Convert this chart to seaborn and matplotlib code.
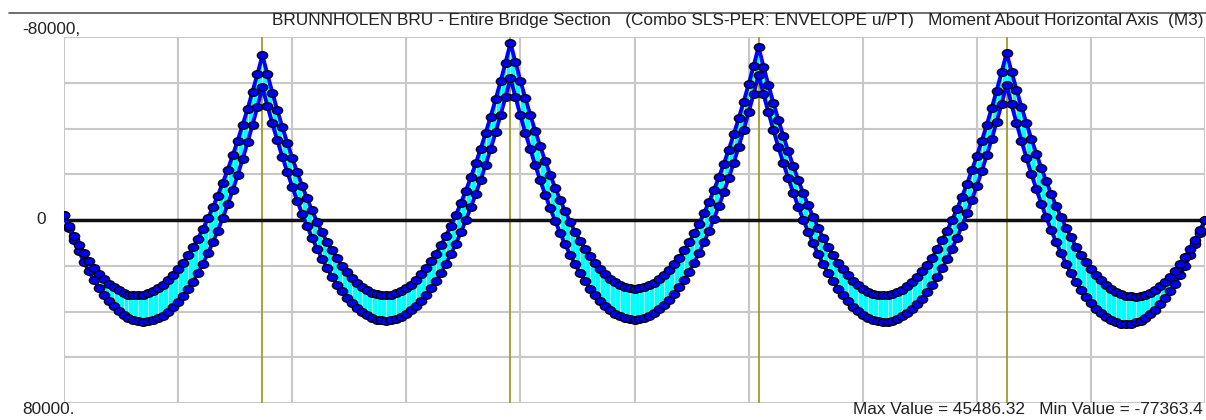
import numpy as np
import seaborn as sns
import matplotlib.pyplot as plt
from matplotlib.path import Path
from matplotlib.transforms import Affine2D
from matplotlib.lines import Line2D

# M3 envelope, 1 m output stations, kNm (each span lists both end stations)
span_lengths = [40, 50, 50, 50, 40]

span1_max = [-2000, 3600, 8800, 13700, 18200, 22400, 26200, 29600, 32700, 35400, 37800, 39800, 41500,
             42800, 43700, 44300, 44500, 44300, 43800, 43000, 41800, 40200, 38200, 35900, 33300, 30300,
             26900, 23200, 19100, 14600, 9800, 4600, -900, -6800, -13000, -19600, -26600, -33900,
             -41600, -49600, -58000]
span1_min = [-2000, 2600, 6900, 10900, 14500, 17800, 20800, 23500, 25800, 27800, 29500, 30800, 31900,
             32600, 32900, 33000, 32700, 32100, 31200, 29900, 28300, 26400, 24200, 21600, 18700, 15500,
             11900, 8100, 3900, -700, -5500, -10700, -16200, -22000, -28200, -34700, -41500, -48600,
             -56100, -63900, -72000]

span2_max = [-58000, -49900, -42200, -34800, -27700, -21000, -14600, -8500, -2700, 2700, 7800, 12500,
             16900, 21000, 24700, 28200, 31200, 34000, 36400, 38500, 40200, 41700, 42700, 43500, 43900,
             44000, 43800, 43200, 42300, 41000, 39400, 37500, 35300, 32700, 29800, 26600, 23000, 19100,
             14800, 10300, 5400, 100, -5500, -11400, -17600, -24200, -31100, -38300, -45900, -53800,
             -62000]
span2_min = [-72000, -63700, -55700, -48000, -40700, -33800, -27200, -20900, -15000, -9400, -4200, 700,
             5300, 9500, 13300, 16800, 20000, 22800, 25300, 27400, 29200, 30700, 31800, 32500, 32900,
             33000, 32700, 32100, 31100, 29800, 28200, 26200, 23800, 21100, 18100, 14700, 11000, 6900,
             2500, -2300, -7400, -12800, -18600, -24800, -31200, -38100, -45200, -52700, -60600, -68800,
             -77363]

span3_max = [-62000, -53700, -45700, -38100, -30900, -23900, -17300, -11100, -5100, 400, 5700, 10600,
             15100, 19400, 23200, 26800, 30000, 32800, 35400, 37500, 39400, 40900, 42000, 42900, 43300,
             43500, 43300, 42800, 41900, 40700, 39100, 37200, 35000, 32400, 29500, 26200, 22600, 18700,
             14400, 9800, 4800, -500, -6100, -12100, -18400, -25000, -32000, -39400, -47000, -55000,
             -63400]
span3_min = [-77363, -69000, -60900, -53200, -45900, -38800, -32200, -25800, -19800, -14200, -8900,
             -3900, 800, 5100, 9000, 12600, 15900, 18800, 21400, 23700, 25600, 27200, 28400, 29300,
             29800, 30000, 29900, 29400, 28600, 27400, 25900, 24100, 21900, 19400, 16500, 13300, 9800,
             5900, 1700, -2900, -7800, -13000, -18600, -24600, -30800, -37400, -44400, -51700, -59300,
             -67300, -75600]

span4_max = [-63400, -55000, -47000, -39300, -31900, -24900, -18200, -11900, -5900, -200, 5100, 10100,
             14800, 19100, 23100, 26700, 30000, 33000, 35600, 37900, 39800, 41400, 42700, 43600, 44200,
             44500, 44400, 44000, 43200, 42100, 40700, 38900, 36800, 34400, 31600, 28500, 25000, 21200,
             17100, 12600, 7800, 2600, -2900, -8700, -14900, -21400, -28200, -35400, -42900, -50800,
             -59000]
span4_min = [-75600, -67100, -59000, -51200, -43800, -36700, -30000, -23600, -17500, -11800, -6400,
             -1400, 3300, 7700, 11700, 15300, 18600, 21600, 24200, 26500, 28500, 30100, 31300, 32200,
             32800, 33000, 32900, 32400, 31600, 30500, 29000, 27100, 25000, 22400, 19600, 16400, 12800,
             8900, 4700, 100, -4800, -10100, -15700, -21700, -28000, -34600, -41600, -48900, -56600,
             -64600, -73000]

span5_max = [-59000, -50500, -42400, -34600, -27200, -20100, -13500, -7100, -1100, 4500, 9700, 14600,
             19100, 23300, 27100, 30600, 33700, 36400, 38800, 40800, 42500, 43800, 44700, 45300, 45486,
             45300, 44800, 44000, 42700, 41200, 39200, 36900, 34300, 31200, 27900, 24100, 20000, 15500,
             10700, 5500, 0]
span5_min = [-73000, -64900, -57000, -49500, -42300, -35500, -29000, -22800, -16900, -11300, -6100,
             -1200, 3400, 7600, 11600, 15200, 18500, 21400, 24100, 26400, 28400, 30000, 31400, 32400,
             33100, 33400, 33500, 33200, 32600, 31700, 30400, 28800, 26900, 24700, 22100, 19300, 16100,
             12500, 8700, 4500, 0]

title = ("BRUNNHOLEN BRU - Entire Bridge Section   (Combo SLS-PER: ENVELOPE u/PT)   "
         "Moment About Horizontal Axis  (M3)")
footer = "Max Value = 45486.32   Min Value = -77363.4"


def join(spans):
    out = list(spans[0])
    for s in spans[1:]:
        out += list(s[1:])
    return np.array(out, dtype=float)


m_max = join([span1_max, span2_max, span3_max, span4_max, span5_max])
m_min = join([span1_min, span2_min, span3_min, span4_min, span5_min])
stations = np.arange(len(m_max), dtype=float)
piers = np.cumsum(span_lengths)[:-1]
total = float(sum(span_lengths))

sns.set_style("white")
plt.rcParams['font.family'] = ['Liberation Sans', 'DejaVu Sans']

W, H = 1206, 420
fig = plt.figure(figsize=(W / 100, H / 100), dpi=100)
ax = fig.add_axes([64 / W, 17 / H, 1141 / W, 366 / H])

# grid
grid_c = '#c8c8c8'
for gx in np.linspace(0, total, 11):
    ax.axvline(gx, color=grid_c, lw=1.5, zorder=1)
for gy in np.arange(-80000, 80001, 20000):
    ax.axhline(gy, color=grid_c, lw=1.5, zorder=1)
for p in piers:
    ax.axvline(p, color='#a39b2a', lw=1.3, zorder=2)
ax.axhline(0, color='#111111', lw=2.5, zorder=2)

# envelope band
ax.fill_between(stations, m_min, m_max, color='#00ffff', lw=0, zorder=3)
ax.vlines(stations, m_min, m_max, color='#9ffcff', lw=0.7, zorder=3)

ell = Path.unit_circle().transformed(Affine2D().scale(1.35, 1.0))
for vals in (m_max, m_min):
    sns.lineplot(x=stations, y=vals, ax=ax, estimator=None, sort=False,
                 color='#0000ff', lw=2.8, marker=ell, markersize=7.5,
                 markerfacecolor='#0000ee', markeredgecolor='#000000',
                 markeredgewidth=0.9, zorder=4)

ax.set_xlim(0, total)
ax.set_ylim(80000, -80000)
ax.set_xticks([])
ax.set_yticks([])
ax.set_xlabel('')
ax.set_ylabel('')
for s in ax.spines.values():
    s.set_visible(False)

# header rule and labels
fig.add_artist(Line2D([9 / W, 1.0], [1 - 13 / H] * 2, color='#555555', lw=1.2))
fs = 12.4
fig.text(22 / W, 1 - 29 / H, '-80000,', fontsize=fs, va='center', ha='left', color='#222222')
fig.text(46 / W, 1 - 219 / H, '0', fontsize=fs, va='center', ha='right', color='#222222')
fig.text(22 / W, 1 - 410 / H, '80000.', fontsize=fs, va='center', ha='left', color='#222222')
fig.text(1203 / W, 1 - 21 / H, title, fontsize=fs, va='center', ha='right', color='#222222')
fig.text(1203 / W, 1 - 410 / H, footer, fontsize=fs, va='center', ha='right', color='#222222')

fig.savefig('out.png', dpi=100)
